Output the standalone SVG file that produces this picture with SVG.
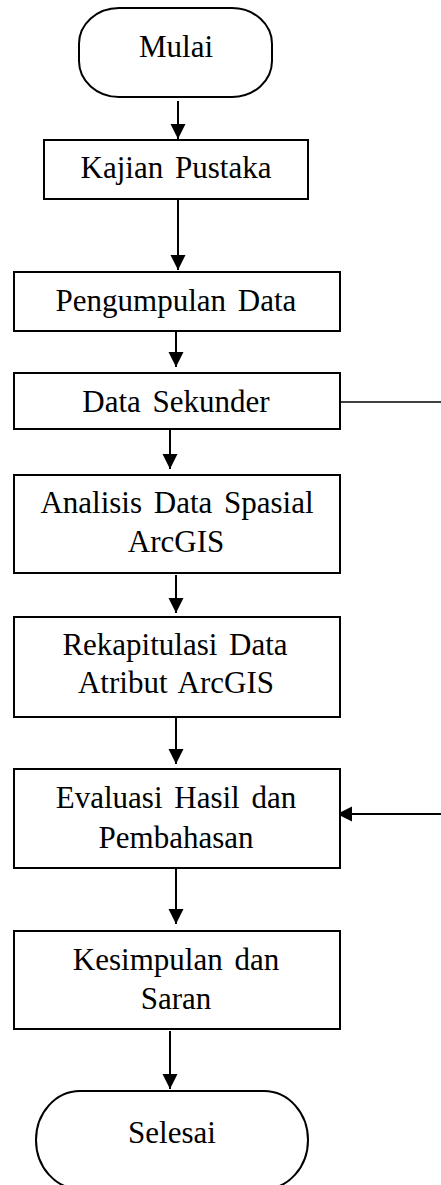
<svg xmlns="http://www.w3.org/2000/svg" width="441" height="1185" viewBox="0 0 441 1185">
  <style>
    .box { fill: #fff; stroke: #000; stroke-width: 2; }
    .lbl { font-family: "Liberation Serif", "Times New Roman", serif; font-size: 31px; fill: #000; text-anchor: middle; word-spacing: 4px; }
    .conn { fill: none; stroke: #000; stroke-width: 2; }
    .thin { fill: none; stroke: #000; stroke-width: 1.5; }
  </style>
  <defs>
    <marker id="arrow" markerUnits="userSpaceOnUse" markerWidth="16" markerHeight="16" refX="15" refY="7.5" orient="auto">
      <path d="M0,0 L15,7.5 L0,15 Z" fill="#000"/>
    </marker>
  </defs>
  <rect width="441" height="1185" fill="#fff"/>

  <g id="connectors">
    <line class="conn" x1="178" y1="101" x2="178" y2="139" marker-end="url(#arrow)"/>
    <line class="conn" x1="178" y1="200" x2="178" y2="270" marker-end="url(#arrow)"/>
    <line class="conn" x1="176" y1="332" x2="176" y2="367" marker-end="url(#arrow)"/>
    <line class="conn" x1="170" y1="430" x2="170" y2="469" marker-end="url(#arrow)"/>
    <line class="conn" x1="176" y1="575" x2="176" y2="613" marker-end="url(#arrow)"/>
    <line class="conn" x1="176" y1="718" x2="176" y2="764" marker-end="url(#arrow)"/>
    <line class="conn" x1="176" y1="869" x2="176" y2="924" marker-end="url(#arrow)"/>
    <line class="conn" x1="170" y1="1031" x2="170" y2="1089" marker-end="url(#arrow)"/>
    <line class="thin" x1="341" y1="402" x2="441" y2="402"/>
    <line class="conn" x1="441" y1="814" x2="337" y2="814" marker-end="url(#arrow)"/>
  </g>

  <g id="mulai">
    <rect class="box" x="79" y="8" width="193" height="89" rx="40" ry="36"/>
    <text class="lbl" x="176" y="57">Mulai</text>
  </g>
  <g id="kajian-pustaka">
    <rect class="box" x="44" y="140" width="264" height="59"/>
    <text class="lbl" x="176" y="178">Kajian Pustaka</text>
  </g>
  <g id="pengumpulan-data">
    <rect class="box" x="14" y="272" width="326" height="59"/>
    <text class="lbl" x="176" y="311">Pengumpulan Data</text>
  </g>
  <g id="data-sekunder">
    <rect class="box" x="14" y="373" width="326" height="56"/>
    <text class="lbl" x="176" y="412">Data Sekunder</text>
  </g>
  <g id="analisis">
    <rect class="box" x="14" y="475" width="326" height="98"/>
    <text class="lbl" x="177" y="513">Analisis Data Spasial</text>
    <text class="lbl" x="176" y="552">ArcGIS</text>
  </g>
  <g id="rekapitulasi">
    <rect class="box" x="14" y="617" width="326" height="100"/>
    <text class="lbl" x="175" y="655">Rekapitulasi Data</text>
    <text class="lbl" x="176" y="693">Atribut ArcGIS</text>
  </g>
  <g id="evaluasi">
    <rect class="box" x="14" y="769" width="326" height="99"/>
    <text class="lbl" x="176" y="808">Evaluasi Hasil dan</text>
    <text class="lbl" x="176" y="848">Pembahasan</text>
  </g>
  <g id="kesimpulan">
    <rect class="box" x="14" y="931" width="326" height="98"/>
    <text class="lbl" x="176" y="970">Kesimpulan dan</text>
    <text class="lbl" x="176" y="1009">Saran</text>
  </g>
  <g id="selesai">
    <rect class="box" x="36" y="1091" width="272" height="98" rx="44" ry="49"/>
    <text class="lbl" x="172" y="1143">Selesai</text>
  </g>
</svg>
